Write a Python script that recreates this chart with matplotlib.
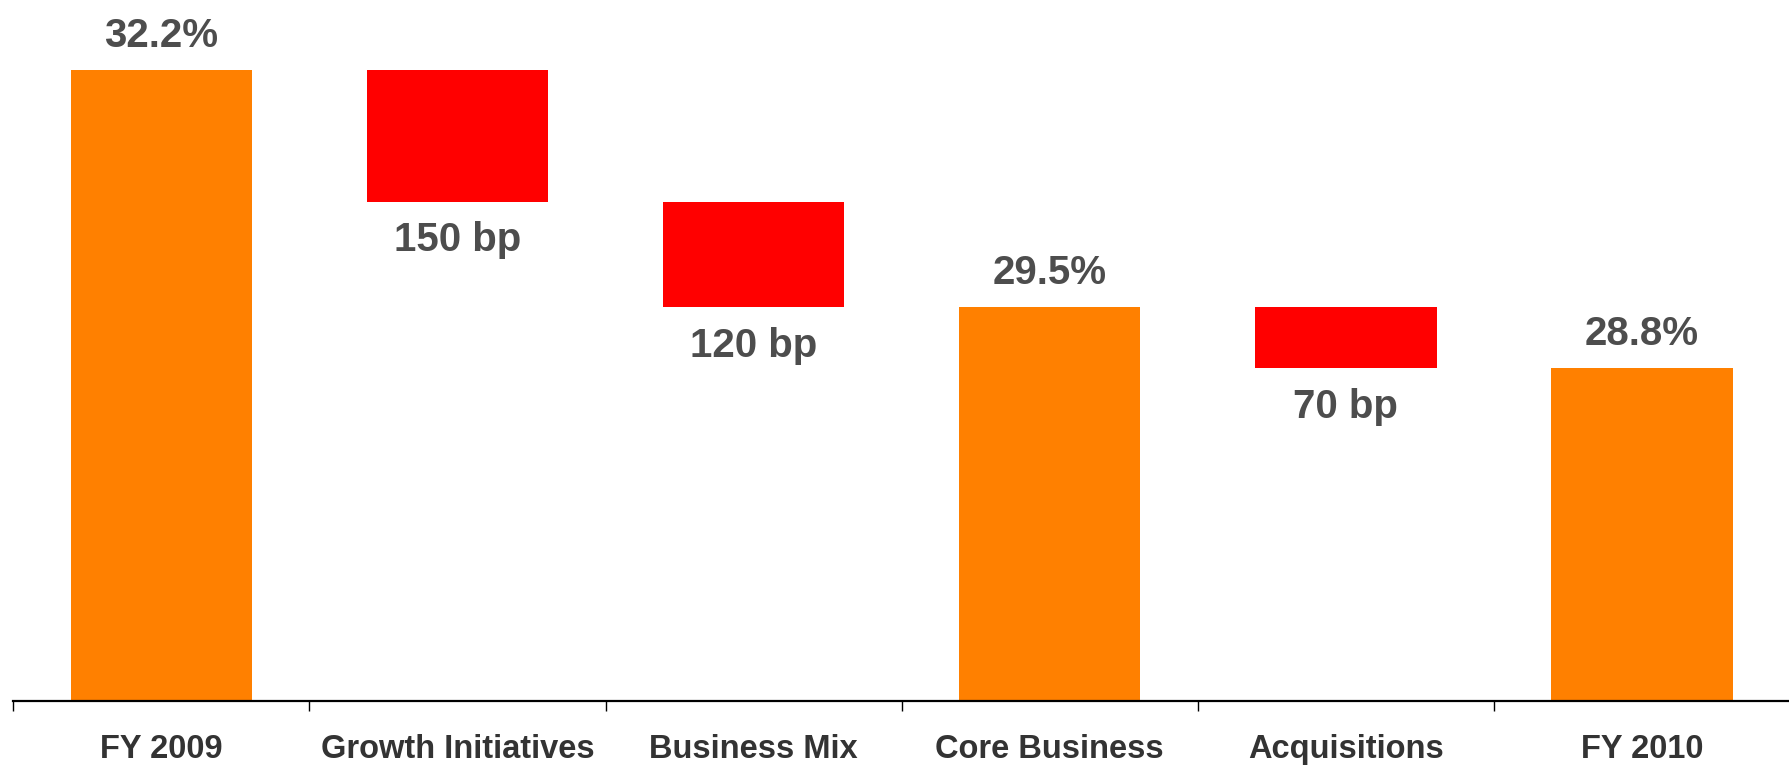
import matplotlib.pyplot as plt

# waterfall data (margin %, change in pct points)
categories = ["FY 2009", "Growth Initiatives", "Business Mix", "Core Business", "Acquisitions", "FY 2010"]
kinds = ["total", "delta", "delta", "total", "delta", "total"]
values = [32.2, -1.5, -1.2, 29.5, -0.7, 28.8]
labels = ["32.2%", "150 bp", "120 bp", "29.5%", "70 bp", "28.8%"]

base = 25.0
orange = "#FF8000"
red = "#FF0000"
txt = "#4D4D4D"

plt.rcParams['font.family'] = ['Liberation Sans', 'DejaVu Sans']

fig = plt.figure(figsize=(17.9, 7.67), dpi=100)
ax = fig.add_axes([13.3/1790, 66/767, 1776.7/1790, 701/767])

level = base
for i, (k, v, lab) in enumerate(zip(kinds, values, labels)):
    if k == "total":
        ax.bar(i, v - base, bottom=base, width=0.613, color=orange)
        ax.text(i, v + 0.26, lab, ha="center", va="baseline", fontsize=29,
                fontweight="bold", color=txt)
        level = v
    else:
        ax.bar(i, v, bottom=level, width=0.613, color=red)
        ax.text(i, level + v - 0.57, lab, ha="center", va="baseline", fontsize=29,
                fontweight="bold", color=txt)
        level = level + v

ax.set_ylim(base, 33.0)
ax.set_xlim(-0.5, 5.454)

for s in ["top", "right", "left"]:
    ax.spines[s].set_visible(False)
ax.spines["bottom"].set_linewidth(1.6)
ax.set_yticks([])

ax.set_xticks(range(len(categories)))
ax.set_xticklabels(categories, fontsize=23.5, fontweight="bold", color="#333333")
ax.tick_params(axis="x", which="major", length=0, pad=24)
ax.set_xticks([i - 0.5 for i in range(len(categories) + 1)], minor=True)
ax.tick_params(axis="x", which="minor", length=7, width=1.0, direction="out")

fig.savefig("out.png", dpi=100)
